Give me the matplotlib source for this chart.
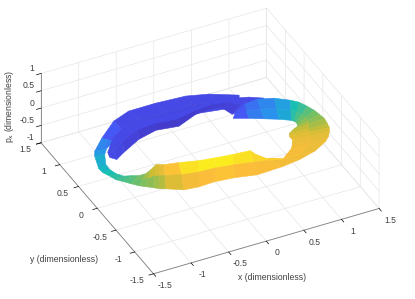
import numpy as np
import matplotlib
matplotlib.use('Agg')
import matplotlib.pyplot as plt
from matplotlib.colors import LinearSegmentedColormap, Normalize
from mpl_toolkits.mplot3d import proj3d

plt.rcParams['font.family'] = ['Liberation Sans', 'DejaVu Sans']

# Banda principal: borde exterior, centro y borde interior
x_out = [.695, .851, 1.017, 1.179, 1.284, 1.342, 1.368, 1.391, 1.392, 1.392, 1.362, 1.324, 1.269, 1.209, 1.128, .932, .675, .423, .08, -.20, -.444, -.64, -.804, -.948, -1.0, -1.042, -1.108, -1.161, -1.215, -1.259, -1.313, -1.338, -1.362, -1.352, -1.259, -1.191, -.955, -.655, -.403, -.041, .344, .607, .913]
y_out = [.725, .799, .784, .654, .436, .313, .151, .009, -.124, -.257, -.397, -.526, -.638, -.732, -.814, -.941, -1.027, -1.078, -1.10, -1.045, -1.0, -.992, -.917, -.726, -.668, -.592, -.511, -.431, -.325, -.226, -.12, .016, .129, .257, .551, .688, .974, 1.256, 1.361, 1.363, 1.333, 1.247, 1.055]
z_out = [-.55, -.48, -.42, -.33, -.18, -.12, -.05, 0, .05, .1, .15, .22, .28, .29, .3, .32, .33, .35, .36, .38, .36, .33, .25, .13, .09, .05, .02, -.02, -.06, -.1, -.14, -.18, -.22, -.27, -.35, -.42, -.55, -.6, -.6, -.6, -.6, -.6, -.58]

x_mid = [.66, .80, .955, 1.10, 1.19, 1.217, 1.225, 1.223, 1.20, 1.157, 1.09, 1.05, 1.02, .96, .895, .70, .48, .31, .12, -.13, -.35, -.55, -.73, -.885, -.93, -.965, -1.03, -1.08, -1.14, -1.19, -1.25, -1.29, -1.31, -1.29, -1.19, -1.10, -.895, -.64, -.375, -.025, .34, .62, .865]
y_mid = [.68, .64, .566, .43, .23, .128, .01, -.10, -.21, -.314, -.44, -.54, -.64, -.745, -.825, -.97, -.99, -.95, -.92, -.88, -.84, -.81, -.71, -.57, -.52, -.465, -.415, -.36, -.28, -.19, -.106, .02, .148, .285, .56, .70, .92, 1.08, 1.15, 1.155, 1.15, 1.07, .96]
z_mid = [-.55, -.45, -.39, -.3, -.15, -.08, -.02, .04, .1, .16, .22, .27, .3, .32, .34, .38, .42, .44, .47, .5, .5, .47, .38, .28, .23, .18, .09, .01, -.05, -.1, -.145, -.19, -.235, -.28, -.37, -.45, -.57, -.61, -.61, -.61, -.61, -.61, -.59]

x_in = [.627, .756, .893, 1.024, 1.092, 1.092, 1.082, 1.055, 1.015, .922, .817, .78, .775, .716, .663, .475, .288, .202, .165, -.064, -.262, -.461, -.662, -.821, -.855, -.887, -.946, -.998, -1.066, -1.119, -1.192, -1.239, -1.251, -1.231, -1.118, -1.017, -.835, -.627, -.348, -.008, .333, .636, .818]
y_in = [.643, .475, .348, .208, .022, -.057, -.13, -.211, -.293, -.371, -.475, -.549, -.64, -.758, -.839, -1.0, -.946, -.827, -.74, -.717, -.688, -.633, -.499, -.418, -.378, -.337, -.32, -.291, -.239, -.157, -.092, .029, .167, .312, .567, .717, .868, .911, .934, .948, .962, .902, .865]
z_in = [-.55, -.42, -.36, -.28, -.12, -.05, .02, .08, .15, .22, .3, .33, .36, .4, .42, .45, .5, .52, .55, .55, .55, .52, .42, .36, .33, .3, .17, .05, -.03, -.1, -.15, -.2, -.25, -.3, -.4, -.48, -.58, -.62, -.62, -.62, -.62, -.62, -.6]

# Pliegue azul oscuro de atras
fold_x_up = [-1.004, -.86, -.643, -.388, -.169, .08, .318, .597, .837, 1.007, 1.142]
fold_y_up = [.715, .896, 1.065, 1.122, 1.105, 1.073, 1.068, 1.091, 1.04, .978, .848]
fold_z_up = [-.6, -.6, -.6, -.6, -.6, -.6, -.6, -.6, -.6, -.6, -.55]

fold_x_mid = [-1.016, -.913, -.73, -.455, -.21, .055, .318, .546, .736, .838, .975]
fold_y_mid = [.664, .723, .866, .988, 1.023, .983, 1.04, 1.056, 1.01, .866, .78]
fold_z_mid = [-.6, -.61, -.63, -.65, -.66, -.66, -.65, -.64, -.63, -.6, -.55]

fold_x_low = [-1.029, -.966, -.814, -.522, -.251, .031, .317, .495, .635, .669, .809]
fold_y_low = [.612, .55, .667, .853, .941, .893, 1.011, 1.021, .981, .755, .714]
fold_z_low = [-.6, -.62, -.66, -.7, -.72, -.72, -.7, -.68, -.66, -.6, -.55]

ticks_xy = [-1.5, -1, -0.5, 0, 0.5, 1, 1.5]
ticks_z = [-1, -0.5, 0, 0.5, 1]
labels_xy = ['-1.5', '-1', '-0.5', '0', '0.5', '1', '1.5']
labels_z = ['-1', '-0.5', '0', '0.5', '1']

parula = LinearSegmentedColormap.from_list('parula', [
    (0.2422, 0.1504, 0.6603), (0.2810, 0.3228, 0.9579), (0.1540, 0.5902, 0.9218),
    (0.0704, 0.7457, 0.7258), (0.4420, 0.7500, 0.4000), (0.8000, 0.7400, 0.2000),
    (0.9900, 0.7400, 0.2300), (0.9769, 0.9839, 0.0805)])
norm = Normalize(-0.75, 0.55)
gris = '#404040'
corte = 35  # donde la banda pasa por detras del pliegue


def banda(ax, X, Y, Z, orden):
    # colores por vertice, con borde igual para que no se vean las juntas
    colores = parula(norm(Z))
    s = ax.plot_surface(X, Y, Z, facecolors=colores, rstride=1, cstride=1,
                        shade=False, linewidth=0.4, antialiased=True, zorder=orden)
    s.set_edgecolor(s._facecolor3d)
    return s


def etiqueta(ax, x, y, z, s, ha='center'):
    # proyecta el punto 3D y escribe el texto en 2D
    px, py, _ = proj3d.proj_transform(x, y, z, ax.get_proj())
    ax.text2D(px, py, s, transform=ax.transData, fontsize=6.2, color=gris, ha=ha, va='center')


fig = plt.figure(figsize=(4.15, 2.99), dpi=100)
ax = fig.add_axes([-1.5 / 415, 4.5 / 299, 1, 1], projection='3d', computed_zorder=False)
ax.patch.set_alpha(0)
ax.set_proj_type('ortho')
ax.view_init(elev=35.5, azim=-116.5)
ax.set_box_aspect((1, 1, 0.3378), zoom=1.19)

X = np.array([x_out, x_mid, x_in])
Y = np.array([y_out, y_mid, y_in])
Z = np.array([z_out, z_mid, z_in])

# primero la parte alta de atras, luego el pliegue, y encima la banda principal
banda(ax, X[:, corte:], Y[:, corte:], Z[:, corte:], 1)
banda(ax, np.array([fold_x_up, fold_x_mid, fold_x_low]),
      np.array([fold_y_up, fold_y_mid, fold_y_low]),
      np.array([fold_z_up, fold_z_mid, fold_z_low]), 2)
banda(ax, X[:, :corte + 1], Y[:, :corte + 1], Z[:, :corte + 1], 3)

ax.set_xlim(-1.5, 1.5, view_margin=0)
ax.set_ylim(-1.5, 1.5, view_margin=0)
ax.set_zlim(-1, 1, view_margin=0)
ax.set_xticks(ticks_xy)
ax.set_yticks(ticks_xy)
ax.set_zticks(ticks_z)

for eje in (ax.xaxis, ax.yaxis, ax.zaxis):
    eje.set_tick_params(label1On=False)
    eje.set_pane_color((1, 1, 1, 0))
    eje.pane.set_edgecolor('#e6e6e6')
    eje.line.set_color('#808080')
    eje.line.set_linewidth(0.6)
    eje._axinfo['grid']['color'] = '#e6e6e6'
    eje._axinfo['grid']['linewidth'] = 0.5
    eje._axinfo['tick']['inward_factor'] = 0.25
    eje._axinfo['tick']['outward_factor'] = 0
    eje._axinfo['tick']['linewidth'] = {True: 0.5, False: 0.5}
    eje._axinfo['tick']['color'] = '#808080'

# etiquetas de los ticks, con el desplazamiento que usa MATLAB
for t, s in zip(ticks_xy, labels_xy):
    etiqueta(ax, t, -1.795, -0.97, s)
    etiqueta(ax, -1.713, t, -1.07, s)
for t, s in zip(ticks_z, labels_z):
    etiqueta(ax, -1.587, 1.5, t + 0.2, s, ha='right')

fig.text(272 / 415, 1 - 277 / 299, 'x (dimensionless)', fontsize=6.2, color=gris, ha='center', va='center')
fig.text(64.5 / 415, 1 - 260 / 299, 'y (dimensionless)', fontsize=6.2, color=gris, ha='center', va='center')
fig.text(10 / 415, 1 - 106 / 299, r'p$_{\mathrm{x}}$ (dimensionless)', fontsize=6.2, color=gris,
         ha='center', va='center', rotation=90)

fig.savefig('out.png', dpi=100)
